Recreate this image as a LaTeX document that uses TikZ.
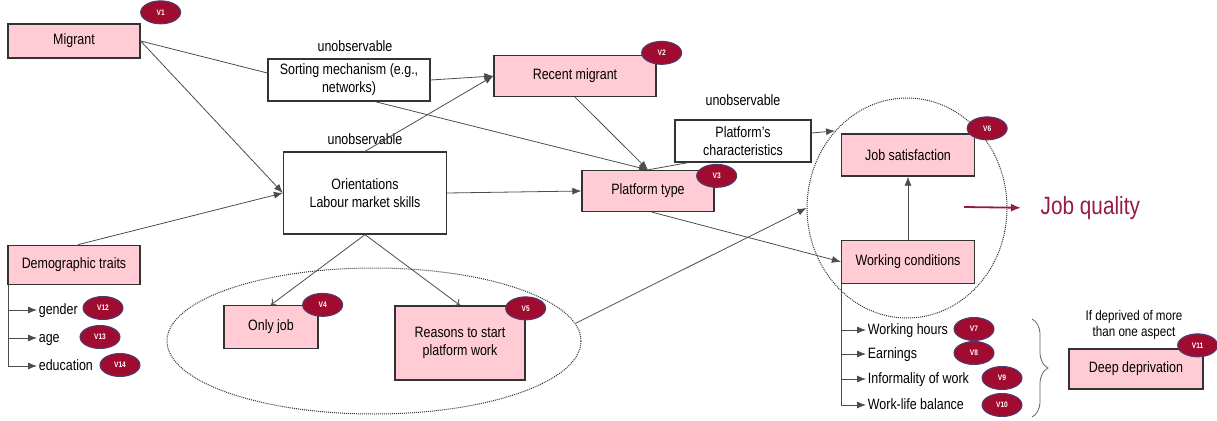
\documentclass[tikz,border=0pt]{standalone}
\usepackage{fontspec}
\setmainfont{Liberation Sans}[FakeStretch=0.83]
\usepackage{tikz}
\usetikzlibrary{positioning, arrows.meta, shapes.geometric, decorations.pathreplacing}
\definecolor{boxpink}{HTML}{FFCCD6}
\definecolor{badgered}{HTML}{A00C30}
\definecolor{badgerim}{HTML}{4B3D73}
\definecolor{jqred}{HTML}{951C40}

\begin{document}
\begin{tikzpicture}[x=1pt, y=-1pt, line width=0.8pt,
  >={Latex[length=9pt, width=7pt]},
  font=\fontsize{15}{18}\selectfont,
  box/.style={draw=black!80, line width=1.3pt, align=center, inner sep=2pt},
  pbox/.style={box, fill=boxpink},
  wbox/.style={box, fill=white},
  vbadge/.style={ellipse, fill=badgered, draw=badgerim, line width=1pt, minimum width=40pt,
    minimum height=23pt, inner sep=0pt, text=white, font=\fontsize{8}{8}\selectfont\bfseries},
  unobs/.style={inner sep=2pt},
  item/.style={inner sep=1.5pt, anchor=west, text height=11pt, text depth=3pt},
  ring/.style={ellipse, draw=black!80, densely dotted, line width=1pt},
  conn/.style={color=black!70}]
  \useasboundingbox (0,0) rectangle (1217,420);

  \node[ring, minimum width=200pt, minimum height=220pt] (qual) at (907,208) {};
  \node[ring, minimum width=414pt, minimum height=146pt] (opts) at (374,341) {};

  \node[pbox, minimum width=132pt, minimum height=34pt] (mig) at (74,41) {Migrant};
  \node[pbox, minimum width=132pt, minimum height=39pt] (demo) [below=186pt of mig] {Demographic traits};
  \node[wbox, minimum width=162pt, minimum height=42pt] (sort) at (349,80) {Sorting mechanism (e.g.,\\networks)};
  \node[wbox, minimum width=163pt, minimum height=82pt] (orient) at (365,193) {Orientations\\Labour market skills};
  \node[pbox, minimum width=162pt, minimum height=41pt] (recent) at (575,76) {Recent migrant};
  \node[pbox, minimum width=132pt, minimum height=41pt] (ptype) at (648,191) {Platform type};
  \node[wbox, minimum width=136pt, minimum height=42pt] (pchar) at (743,141) {Platform’s\\characteristics};
  \node[pbox, minimum width=133pt, minimum height=42pt] (jobsat) at (908,155) {Job satisfaction};
  \node[pbox, minimum width=133pt, minimum height=43pt] (workc) [below=63pt of jobsat] {Working conditions};
  \node[pbox, minimum width=94pt, minimum height=43pt] (only) at (271,327) {Only job};
  \node[pbox, minimum width=130pt, minimum height=74pt] (reasons) at (460,343) {Reasons to start\\platform work};
  \node[pbox, minimum width=134pt, minimum height=40pt] (deep) at (1136,369) {Deep deprivation};

  \node[unobs] (u1) [above=4pt of sort, xshift=6pt] {unobservable};
  \node[unobs] (u2) [above=4pt of orient] {unobservable};
  \node[unobs] (u3) [above=11pt of pchar] {unobservable};
  \node[align=center, font=\fontsize{14}{16}\selectfont] (note) [above=5pt of deep, xshift=-2pt] {If deprived of more\\than one aspect};

  \node[vbadge, xshift=20pt, yshift=11pt] (v1) at (mig.north east) {V1};
  \node[vbadge, xshift=5pt, yshift=2pt] (v2) at (recent.north east) {V2};
  \node[vbadge, xshift=2pt, yshift=-6pt] (v3) at (ptype.north east) {V3};
  \node[vbadge, xshift=4pt] (v4) at (only.north east) {V4};
  \node[vbadge, yshift=-3pt] (v5) at (reasons.north east) {V5};
  \node[vbadge, xshift=12pt, yshift=5pt] (v6) at (jobsat.north east) {V6};
  \node[vbadge, xshift=-6pt, yshift=3pt] (v11) at (deep.north east) {V11};

  \node[item] (gend) at (37,310) {gender};
  \node[item] (age) at (37,338) {age};
  \node[item] (edu) at (37,366) {education};
  \node[vbadge] (v12) at (103,308) {V12};
  \node[vbadge] (v13) at (100,337) {V13};
  \node[vbadge] (v14) at (120,365) {V14};

  \node[item] (hours) at (866,330) {Working hours};
  \node[item] (earn) at (866,354) {Earnings};
  \node[item] (inform) at (866,379) {Informality of work};
  \node[item] (wlb) at (866,405) {Work-life balance};
  \node[vbadge] (v7) at (974,329) {V7};
  \node[vbadge] (v8) at (974,353) {V8};
  \node[vbadge] (v9) at (1002,378) {V9};
  \node[vbadge] (v10) at (1002,405) {V10};

  \coordinate (qa) at (964,207);
  \node[text=jqred, font=\fontsize{25}{30}\selectfont, anchor=west] (jq) at (1037,208) {Job quality};

  \path[->, conn]
  (sort.east) edge (recent.west)
  (orient.north) edge (recent.west)
  (mig.east) edge (orient.west)
  ([xshift=4pt]demo.north) edge (orient.west)
  (orient.east) edge (ptype.west)
  ([xshift=26pt]sort.south) edge (ptype.north)
  (recent.south) edge (ptype.north)
  ([yshift=8pt]pchar.east) edge (qual.133)
  ([xshift=4pt]ptype.south) edge (workc.west)
  (opts.5) edge (qual.west)
  (workc.north) edge (jobsat.south);
  \path[-{To[length=5pt, width=9pt]}, conn]
  (orient.south) edge (only.north)
  (orient.south) edge (reasons.north);
  \path[conn]
  (mig.east) edge ([yshift=7pt]sort.west)
  ([xshift=-55pt]pchar.south) edge (ptype.north);

  \draw[conn, ->] ([xshift=1pt]demo.south west) |- (gend.west);
  \draw[conn, ->] ([xshift=1pt]demo.south west) |- (age.west);
  \draw[conn, ->] ([xshift=1pt]demo.south west) |- (edu.west);
  \draw[conn, ->] ([xshift=1pt]workc.south west) |- (hours.west);
  \draw[conn, ->] ([xshift=1pt]workc.south west) |- (earn.west);
  \draw[conn, ->] ([xshift=1pt]workc.south west) |- (inform.west);
  \draw[conn, ->] ([xshift=1pt]workc.south west) |- (wlb.west);

  \draw[jqred, line width=1.8pt, -{Latex[length=10pt, width=8pt]}, shorten >=16pt] (qa) -- (jq.west);
  \draw[black!60, decorate, decoration={brace, amplitude=16pt}] (1032,319) -- (1032,417);
\end{tikzpicture}
\end{document}
